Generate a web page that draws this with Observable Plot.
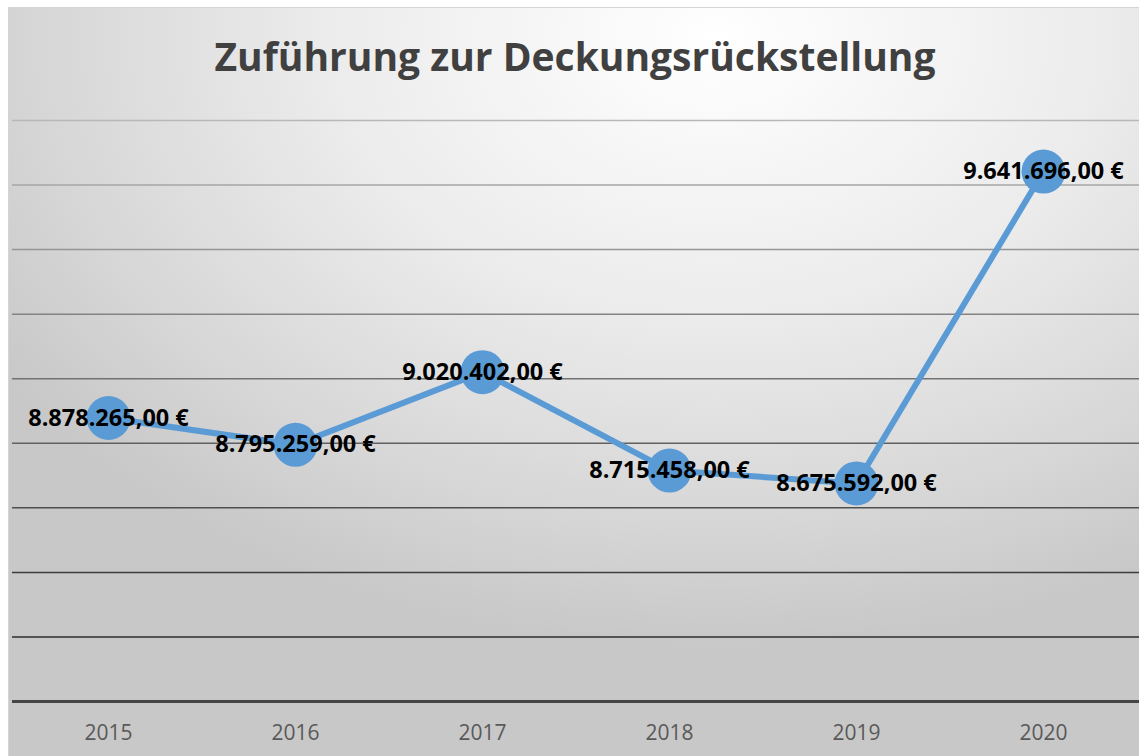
<!DOCTYPE html>
<html>
<head>
<meta charset="utf-8">
<script src="https://cdn.jsdelivr.net/npm/d3@7"></script>
<script src="https://cdn.jsdelivr.net/npm/@observablehq/plot@0.6"></script>
<style>
  html, body { margin: 0; padding: 0; background: #ffffff; }
  #wrap { position: relative; width: 1139px; height: 756px; overflow: hidden; }
  #bg {
    position: absolute; left: 8px; top: 7px; width: 1140px; height: 760px;
    border: 1px solid #d4d4d4;
    background: radial-gradient(ellipse 75% 80% at 62% 4%, #ffffff 0%, #ececec 45%, #d6d6d6 80%, #c8c8c8 100%);
  }
  #title {
    position: absolute; left: 0; width: 1150px; top: 33px; text-align: center;
    font-family: "Open Sans", sans-serif; font-weight: 700; font-size: 39px; line-height: 46px;
    color: #404040;
  }
  #chart { position: absolute; left: 0; top: 0; }
</style>
</head>
<body>
<div id="wrap">
  <div id="bg"></div>
  <div id="title">Zuführung zur Deckungsrückstellung</div>
  <div id="chart"></div>
</div>
<script>
const years = ["2015", "2016", "2017", "2018", "2019", "2020"];
const values = [8878265, 8795259, 9020402, 8715458, 8675592, 9641696];
const labels = ["8.878.265,00 €", "8.795.259,00 €", "9.020.402,00 €", "8.715.458,00 €", "8.675.592,00 €", "9.641.696,00 €"];
const gridTicks = [8000000, 8200000, 8400000, 8600000, 8800000, 9000000, 9200000, 9400000, 9600000, 9800000];

const data = years.map((y, i) => ({year: y, value: values[i], label: labels[i]}));
const gridColor = d3.scaleLinear().domain([8000000, 9800000]).range(["#1a1a1a", "#b8b8b8"]);

const chart = Plot.plot({
  width: 1139,
  height: 756,
  marginTop: 120,
  marginBottom: 55,
  marginLeft: 12,
  marginRight: 0,
  style: { background: "transparent", overflow: "visible", fontFamily: "'Open Sans', sans-serif" },
  x: { type: "point", domain: years, padding: 0.5, label: null },
  y: { domain: [8000000, 9800000], axis: null },
  marks: [
    Plot.ruleY(gridTicks.slice(1), { stroke: d => gridColor(d), strokeWidth: 1.5 }),
    Plot.ruleY([8000000], { stroke: "#454545", strokeWidth: 3 }),
    Plot.axisX({ tickSize: 0, tickPadding: 24, fontSize: 21, color: "#595959", label: null }),
    Plot.line(data, { x: "year", y: "value", stroke: "#5B9BD5", strokeWidth: 6 }),
    Plot.dot(data, { x: "year", y: "value", r: 22, fill: "#5B9BD5", stroke: "none" }),
    Plot.text(data, { x: "year", y: "value", text: "label", fontSize: 23.5, fontWeight: "bold", fill: "#000000", textAnchor: "middle", lineAnchor: "middle" })
  ]
});
document.getElementById("chart").appendChild(chart);
</script>
</body>
</html>
